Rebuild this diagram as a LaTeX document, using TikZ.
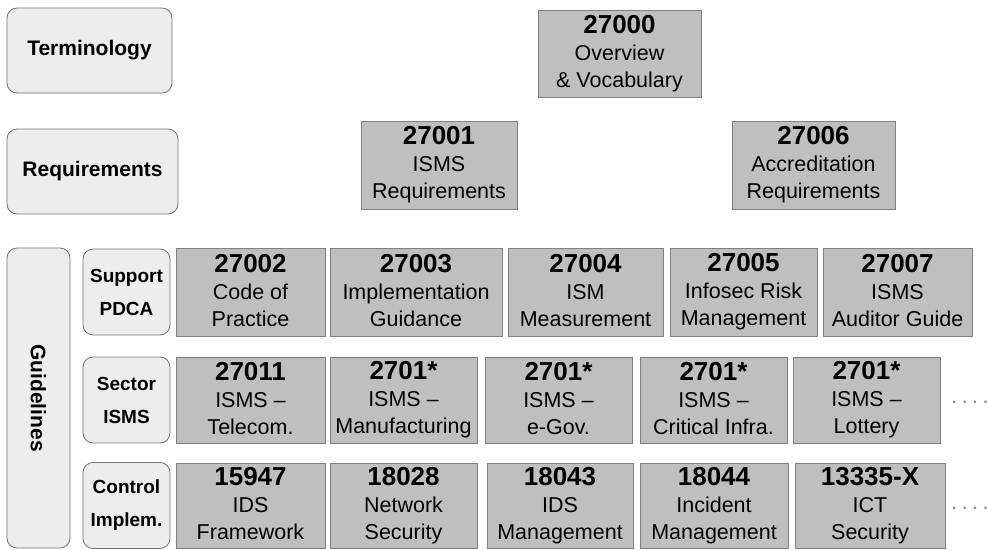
\documentclass[tikz,border=0pt]{standalone}
\usepackage{fontspec}
\setmainfont{Liberation Sans}
\newcommand{\stdnum}[1]{{\bfseries\fontsize{26}{27}\selectfont #1}}

\begin{document}
\begin{tikzpicture}[
  x=1pt, y=-1pt,
  lvl/.style={rounded corners=10pt, draw=black!55, fill=black!7, line width=0.8pt, inner sep=0pt, align=center, font=\bfseries\fontsize{21}{31}\selectfont},
  sub/.style={lvl, font=\bfseries\fontsize{19}{33}\selectfont, minimum width=87, minimum height=86},
  std/.style={draw=black!50, fill=black!25, line width=0.6pt, inner sep=0pt, align=center, font=\fontsize{21.5}{27}\selectfont,
    execute at begin node={\rule{0pt}{29pt}}, execute at end node={\rule[-4pt]{0pt}{4pt}}},
  more/.style={font=\bfseries\fontsize{16}{16}\selectfont, text=black!45, inner sep=0pt}
]
  \useasboundingbox (0,0) rectangle (988,549);

  % Ebenen links
  \node[lvl, minimum width=165, minimum height=85] (term) at (89.5,50.5) {Terminology};
  \node[lvl, minimum width=171, minimum height=85] (req) at (92.5,171.5) {Requirements};
  \node[lvl, rotate=-90, minimum width=300, minimum height=63] (guide) at (38.5,398) {Guidelines};
  \node[sub] (supp) at (126.5,292) {Support\\PDCA};
  \node[sub] (sect) at (126.5,400) {Sector\\ISMS};
  \node[sub] (ctrl) at (126.5,505.5) {Control\\Implem.};

  % Terminologie und Anforderungen
  \node[std, minimum width=163, minimum height=87] (n27000) at (619.5,53.5) {\stdnum{27000}\\Overview\\\& Vocabulary};
  \node[std, minimum width=156, minimum height=88] (n27001) at (439,165) {\stdnum{27001}\\ISMS\\Requirements};
  \node[std, minimum width=163, minimum height=88] (n27006) at (813.5,165) {\stdnum{27006}\\Accreditation\\Requirements};

  % Support PDCA
  \node[std, minimum width=149, minimum height=88] (n27002) at (250.5,292) {\stdnum{27002}\\Code of\\Practice};
  \node[std, minimum width=172, minimum height=88] (n27003) at (416,292) {\stdnum{27003}\\Implementation\\Guidance};
  \node[std, minimum width=155, minimum height=88] (n27004) at (585.5,292) {\stdnum{27004}\\ISM\\Measurement};
  \node[std, minimum width=147, minimum height=88] (n27005) at (743.5,292) {\stdnum{27005}\\Infosec Risk\\Management};
  \node[std, minimum width=149, minimum height=88] (n27007) at (897.5,292) {\stdnum{27007}\\ISMS\\Auditor Guide};

  % Sector ISMS
  \node[std, minimum width=149, minimum height=86] (n27011) at (250.5,400) {\stdnum{27011}\\ISMS –\\Telecom.};
  \node[std, minimum width=147, minimum height=86] (manu) at (403.5,400) {\stdnum{2701*}\\ISMS –\\Manufacturing};
  \node[std, minimum width=147, minimum height=86] (egov) at (558.5,400) {\stdnum{2701*}\\ISMS –\\e-Gov.};
  \node[std, minimum width=147, minimum height=86] (crit) at (713.5,400) {\stdnum{2701*}\\ISMS –\\Critical Infra.};
  \node[std, minimum width=147, minimum height=86] (lott) at (866.5,400) {\stdnum{2701*}\\ISMS –\\Lottery};
  \node[more] (moreB) at (970,402) {. . . .};

  % Control Implem.
  \node[std, minimum width=149, minimum height=85] (n15947) at (250.5,505.5) {\stdnum{15947}\\IDS\\Framework};
  \node[std, minimum width=147, minimum height=85] (n18028) at (403.5,505.5) {\stdnum{18028}\\Network\\Security};
  \node[std, minimum width=146, minimum height=85] (n18043) at (560,505.5) {\stdnum{18043}\\IDS\\Management};
  \node[std, minimum width=148, minimum height=85] (n18044) at (714,505.5) {\stdnum{18044}\\Incident\\Management};
  \node[std, minimum width=150, minimum height=85] (n13335) at (870,505.5) {\stdnum{13335-X}\\ICT\\Security};
  \node[more] (moreC) at (970,508) {. . . .};
\end{tikzpicture}
\end{document}
